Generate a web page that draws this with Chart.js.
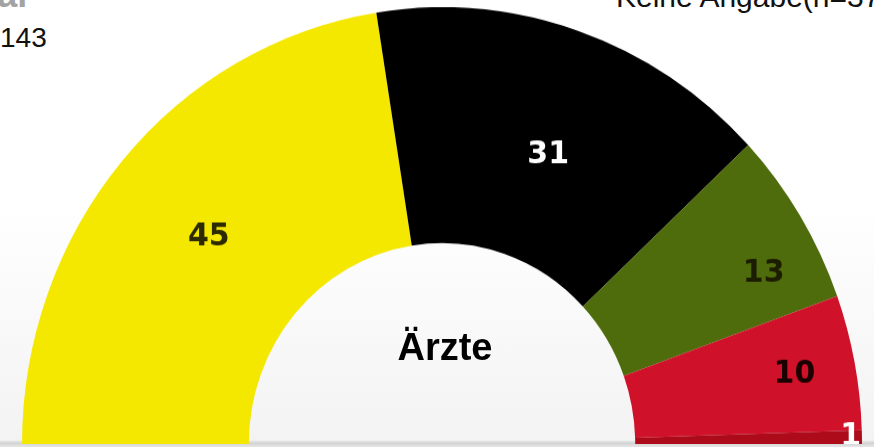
<!DOCTYPE html>
<html lang="de">
<head>
<meta charset="utf-8">
<title>Ärzte</title>
<script src="https://cdn.jsdelivr.net/npm/chart.js@4"></script>
<style>
    html, body {
        margin: 0;
        padding: 0;
    }
    body {
        width: 874px;
        height: 447px;
        overflow: hidden;
        position: relative;
        font-family: "Liberation Sans", Arial, sans-serif;
        background: linear-gradient(to bottom, #ffffff 0px, #ffffff 200px, #f3f3f3 440px, #d2d2d2 443px, #e6e6e6 447px);
    }
    .topLeftTitle {
        position: absolute;
        left: -56px;
        top: -26px;
        font-size: 36px;
        font-weight: bold;
        color: #a3a3a3;
        white-space: nowrap;
    }
    .topLeftCount {
        position: absolute;
        left: 0;
        top: 22px;
        font-size: 28px;
        color: #111;
    }
    .topRight {
        position: absolute;
        left: 616px;
        top: -20px;
        font-size: 30px;
        color: #111;
        white-space: nowrap;
    }
    .centerLabel {
        position: absolute;
        left: 345px;
        top: 326px;
        width: 200px;
        text-align: center;
        font-size: 38px;
        font-weight: bold;
        color: #000;
    }
    #chartWrap {
        position: absolute;
        left: 22px;
        top: 24px;
        width: 840px;
        height: 420px;
        transform: scaleY(1.04);
        transform-origin: 50% 100%;
    }
</style>
</head>
<body>
<div class="topLeftTitle">Total</div>
<div class="topLeftCount">143</div>
<div class="topRight">Keine Angabe(n=37)</div>
<div id="chartWrap"><canvas id="halfChart"></canvas></div>
<div class="centerLabel">Ärzte</div>

<script>
// chart data
const categories = ['FDP', 'CDU/CSU', 'Grüne', 'SPD', 'Linke'];
const shares = [45, 31, 13, 10, 1];

// slice styling
const sliceColors = ['#f4e700', '#000000', '#4e6c0c', '#d0112a', '#ad0a1a'];
const labelColors = ['#2c2a00', '#ffffff', '#1c1c00', '#1a0000', '#ffffff'];
// where the number sits between inner (0) and outer (1) edge, and a small turn in degrees
const labelDepth = [0.5, 0.46, 0.74, 0.73, 0.95];
const labelTurn = [0, 2, 4.5, 0, 0];

// draw the share numbers inside each slice
const sliceLabels = {
    id: 'sliceLabels',
    afterDatasetsDraw(chart) {
        const ctx = chart.ctx;
        const arcs = chart.getDatasetMeta(0).data;
        ctx.save();
        ctx.font = "bold 30px 'DejaVu Sans', sans-serif";
        ctx.textAlign = 'center';
        ctx.textBaseline = 'middle';
        arcs.forEach((arc, i) => {
            const p = arc.getProps(['x', 'y', 'startAngle', 'endAngle', 'innerRadius', 'outerRadius'], true);
            const mid = (p.startAngle + p.endAngle) / 2 + labelTurn[i] * Math.PI / 180;
            const r = p.innerRadius + labelDepth[i] * (p.outerRadius - p.innerRadius);
            ctx.fillStyle = labelColors[i];
            ctx.fillText(String(shares[i]), p.x + Math.cos(mid) * r, p.y + Math.sin(mid) * r);
        });
        ctx.restore();
    }
};

const ctx = document.getElementById('halfChart').getContext('2d');
new Chart(ctx, {
    type: 'doughnut',
    data: {
        labels: categories,
        datasets: [{
            data: shares,
            backgroundColor: sliceColors,
            borderWidth: 0
        }]
    },
    options: {
        responsive: true,
        maintainAspectRatio: false,
        animation: false,
        rotation: -90,
        circumference: 180,
        cutout: '46%',
        layout: { padding: 0 },
        plugins: {
            legend: { display: false },
            tooltip: { enabled: false }
        }
    },
    plugins: [sliceLabels]
});
</script>
</body>
</html>
